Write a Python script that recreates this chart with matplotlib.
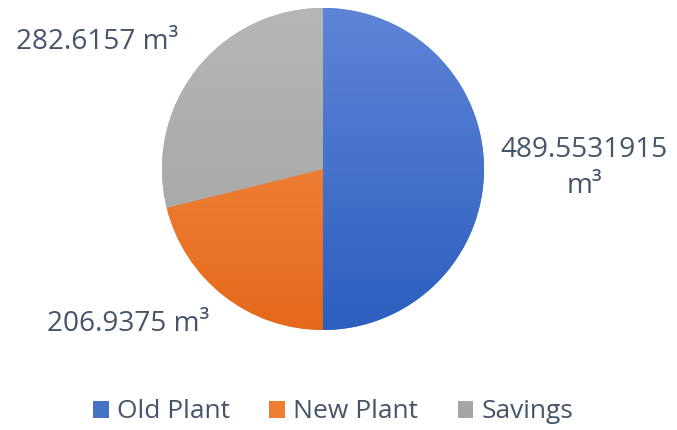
import matplotlib
matplotlib.use("Agg")
import matplotlib.pyplot as plt
import numpy as np
from matplotlib.colors import LinearSegmentedColormap

categories = ["Old Plant", "New Plant", "Savings"]
values = [489.5531915, 206.9375, 282.6157]
label_texts = ["489.5531915\nm³", "206.9375 m³", "282.6157 m³"]

top_colors = ["#5E84D6", "#F79250", "#B6B6B6"]
bottom_colors = ["#2C5FC0", "#E4691A", "#A2A2A2"]
mid_colors = ["#4472C4", "#ED7D31", "#A5A5A5"]
text_color = "#44546A"

plt.rcParams['font.family'] = ['Open Sans', 'DejaVu Sans']

W, H = 677, 430
fig = plt.figure(figsize=(W / 100, H / 100), dpi=100)
ax = fig.add_axes([0, 0, 1, 1])

cx, cy, r = 323, H - 169, 161
wedges, _ = ax.pie(values, startangle=90, counterclock=False, colors=mid_colors,
                   center=(cx, cy), radius=r, frame=True,
                   wedgeprops=dict(linewidth=0))

grad = np.linspace(1, 0, 256).reshape(-1, 1)
for w, tc, bc in zip(wedges, top_colors, bottom_colors):
    cmap = LinearSegmentedColormap.from_list("g", [bc, tc])
    im = ax.imshow(grad, cmap=cmap, extent=[cx - r, cx + r, cy - r, cy + r],
                   aspect='auto', origin='upper', zorder=2, interpolation='bilinear')
    im.set_clip_path(w)

# data labels
label_pos = [(584, 168), (128, 324), (97, 42)]
for (x, y), t in zip(label_pos, label_texts):
    ax.text(x, H - y, t, ha='center', va='center', fontsize=20.2,
            color=text_color, linespacing=1.35, zorder=5)

leg = ax.legend(wedges, categories, loc='center', bbox_to_anchor=(333 / W, 1 - 412 / H),
                ncol=3, frameon=False, fontsize=19, handlelength=0.6, handleheight=0.6,
                handletextpad=0.3, columnspacing=1.5, labelcolor=text_color,
                borderaxespad=0)

ax.set_xlim(0, W)
ax.set_ylim(0, H)
ax.set_aspect('equal')
ax.axis('off')

fig.savefig("out.png", dpi=100)
